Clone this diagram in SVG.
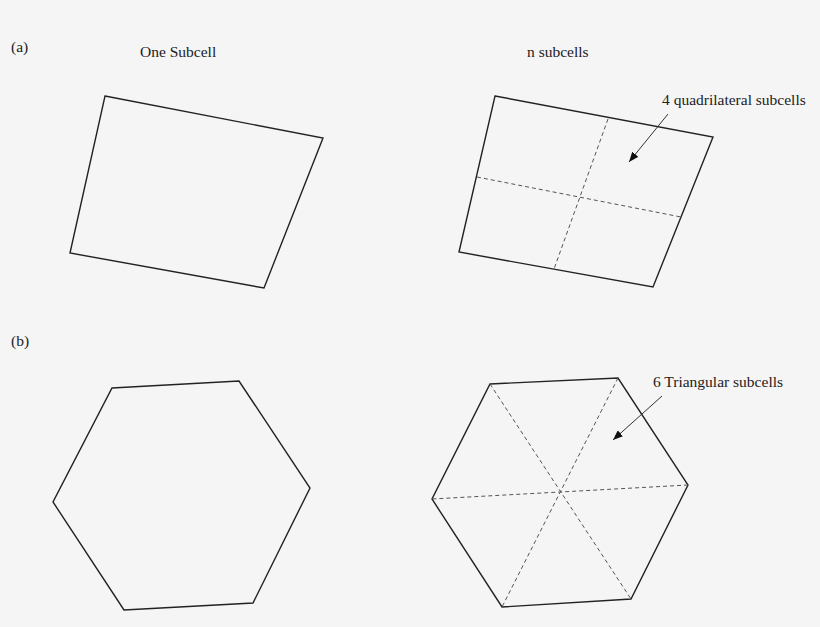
<svg xmlns="http://www.w3.org/2000/svg" width="820" height="627" viewBox="0 0 820 627">
<defs>
<style>
.cell{fill:none;stroke:#222;stroke-width:1.4;stroke-linejoin:miter}
.div{fill:none;stroke:#555;stroke-width:1;stroke-dasharray:4 3}
.lead{fill:none;stroke:#333;stroke-width:1}
text{font-family:"Liberation Serif","Times New Roman",serif;font-size:15.5px;fill:#222}
</style>
<marker id="ah" viewBox="0 0 10 8" refX="10" refY="4" markerWidth="10" markerHeight="8" markerUnits="userSpaceOnUse" orient="auto">
<path d="M0,0 L10,4 L0,8 z" fill="#111"/>
</marker>
</defs>
<rect width="820" height="627" fill="#f5f5f5"/>
<g id="labels">
<text x="11" y="52">(a)</text>
<text x="140" y="57">One Subcell</text>
<text x="527" y="57">n subcells</text>
<text x="11" y="346">(b)</text>
</g>
<g id="quad-one">
<polygon class="cell" points="105,96 323,138 264,288 70,253"/>
</g>
<g id="quad-n">
<polygon class="cell" points="495,96 713,137 653,287 459,252"/>
<line class="div" x1="477" y1="177" x2="681" y2="217"/>
<line class="div" x1="608" y1="119" x2="554" y2="269"/>
</g>
<g id="hex-one">
<polygon class="cell" points="112,388 239,381 310,488 253,603 124,610 53,502"/>
</g>
<g id="hex-n">
<polygon class="cell" points="490,384 618,378 688,485 631,599 502,607 432,499"/>
<line class="div" x1="490" y1="384" x2="631" y2="599"/>
<line class="div" x1="618" y1="378" x2="502" y2="607"/>
<line class="div" x1="688" y1="485" x2="432" y2="499"/>
</g>
<g id="annot-quad">
<text x="662" y="105">4 quadrilateral subcells</text>
</g>
<g id="annot-tri">
<text x="653" y="387">6 Triangular subcells</text>
</g>
<g id="connectors">
<line class="lead" x1="668" y1="114" x2="629" y2="162" marker-end="url(#ah)"/>
<line class="lead" x1="662" y1="396" x2="613" y2="440" marker-end="url(#ah)"/>
</g>
</svg>
